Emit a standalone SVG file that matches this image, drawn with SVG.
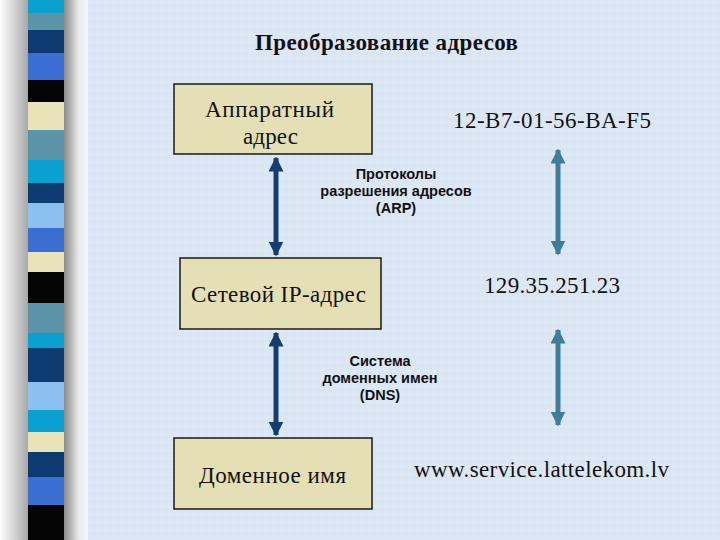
<svg xmlns="http://www.w3.org/2000/svg" width="720" height="540" viewBox="0 0 720 540">
<defs>
<style>
.box{fill:#e4dfb5;stroke:#1a1a1a;stroke-width:1.5}
.serif{font-family:"Liberation Serif","Times New Roman",serif;fill:#111;font-size:23px}
.sans{font-family:"Liberation Sans",Arial,sans-serif;font-weight:bold;fill:#111;font-size:14.5px;text-anchor:middle}
.dk{stroke:#163d6e;stroke-width:5;fill:none}
.lt{stroke:#3f7d98;stroke-width:5;fill:none}
</style>
<marker id="hd" viewBox="0 0 10 10" refX="9" refY="5" markerWidth="3" markerHeight="3" orient="auto-start-reverse" markerUnits="strokeWidth"><path d="M0,0 L10,5 L0,10 Z" fill="#163d6e"/></marker>
<marker id="hl" viewBox="0 0 10 10" refX="9" refY="5" markerWidth="3" markerHeight="3" orient="auto-start-reverse" markerUnits="strokeWidth"><path d="M0,0 L10,5 L0,10 Z" fill="#3f7d98"/></marker>
<linearGradient id="lsh" x1="0" x2="1" y1="0" y2="0"><stop offset="0" stop-color="#ffffff"/><stop offset="1" stop-color="#a8a8a8"/></linearGradient>
<linearGradient id="rsh" x1="0" x2="1" y1="0" y2="0"><stop offset="0" stop-color="#8a8a8a"/><stop offset="0.6" stop-color="#e8e8e8"/><stop offset="1" stop-color="#f4f7fb"/></linearGradient>
<pattern id="tex" width="8" height="8" patternUnits="userSpaceOnUse"><rect width="8" height="8" fill="#dbe7f5"/><rect x="1" y="2" width="2" height="1" fill="#e9f0fa"/><rect x="5" y="5" width="2" height="1" fill="#cfdef0"/></pattern>
</defs>
<rect width="720" height="540" fill="url(#tex)"/>
<g id="sidebar">
<rect x="0" y="0" width="28" height="540" fill="url(#lsh)"/>
<rect x="64" y="0" width="24" height="540" fill="url(#rsh)"/>
<rect x="28" y="0" width="36" height="13" fill="#0aa0d0"/>
<rect x="28" y="13" width="36" height="17" fill="#5b93a8"/>
<rect x="28" y="30" width="36" height="23" fill="#0d3a70"/>
<rect x="28" y="53" width="36" height="27" fill="#3a6ed0"/>
<rect x="28" y="80" width="36" height="22" fill="#050505"/>
<rect x="28" y="102" width="36" height="28" fill="#e8e4b8"/>
<rect x="28" y="130" width="36" height="30" fill="#5b93a8"/>
<rect x="28" y="160" width="36" height="23" fill="#0aa0d0"/>
<rect x="28" y="183" width="36" height="20" fill="#0d3a70"/>
<rect x="28" y="203" width="36" height="25" fill="#8cc0f0"/>
<rect x="28" y="228" width="36" height="24" fill="#3a6ed0"/>
<rect x="28" y="252" width="36" height="20" fill="#e8e4b8"/>
<rect x="28" y="272" width="36" height="31" fill="#050505"/>
<rect x="28" y="303" width="36" height="30" fill="#5b93a8"/>
<rect x="28" y="333" width="36" height="15" fill="#0aa0d0"/>
<rect x="28" y="348" width="36" height="34" fill="#0d3a70"/>
<rect x="28" y="382" width="36" height="28" fill="#8cc0f0"/>
<rect x="28" y="410" width="36" height="22" fill="#0aa0d0"/>
<rect x="28" y="432" width="36" height="20" fill="#e8e4b8"/>
<rect x="28" y="452" width="36" height="25" fill="#0d3a70"/>
<rect x="28" y="477" width="36" height="28" fill="#3a6ed0"/>
<rect x="28" y="505" width="36" height="35" fill="#050505"/>
</g>
<text class="serif" x="255" y="50" font-size="20" font-weight="bold" textLength="263" lengthAdjust="spacing">Преобразование адресов</text>
<g id="connectors">
<line class="dk" x1="276" y1="158" x2="276" y2="255" marker-start="url(#hd)" marker-end="url(#hd)"/>
<line class="dk" x1="276" y1="333" x2="276" y2="435" marker-start="url(#hd)" marker-end="url(#hd)"/>
<line class="lt" x1="558" y1="150" x2="558" y2="254" marker-start="url(#hl)" marker-end="url(#hl)"/>
<line class="lt" x1="558" y1="330" x2="558" y2="425" marker-start="url(#hl)" marker-end="url(#hl)"/>
</g>
<g id="hw">
<rect class="box" x="174" y="84" width="198" height="70"/>
<text class="serif" x="205" y="117" textLength="129" lengthAdjust="spacing">Аппаратный</text>
<text class="serif" x="243" y="144" textLength="55" lengthAdjust="spacing">адрес</text>
</g>
<g id="ip">
<rect class="box" x="180" y="258" width="201" height="71"/>
<text class="serif" x="191" y="302" textLength="175" lengthAdjust="spacing">Сетевой IP-адрес</text>
</g>
<g id="dn">
<rect class="box" x="174" y="438" width="198" height="71"/>
<text class="serif" x="199" y="483" textLength="147" lengthAdjust="spacing">Доменное имя</text>
</g>
<g id="arp">
<text class="sans" x="396" y="179">Протоколы</text>
<text class="sans" x="396" y="196">разрешения адресов</text>
<text class="sans" x="396" y="213">(ARP)</text>
</g>
<g id="dns">
<text class="sans" x="380" y="366">Система</text>
<text class="sans" x="380" y="383">доменных имен</text>
<text class="sans" x="380" y="400">(DNS)</text>
</g>
<g id="mac"><text class="serif" x="453" y="128" textLength="198" lengthAdjust="spacing">12-B7-01-56-BA-F5</text></g>
<g id="ipval"><text class="serif" x="484" y="293" textLength="136" lengthAdjust="spacing">129.35.251.23</text></g>
<g id="url"><text class="serif" x="414" y="477" textLength="255" lengthAdjust="spacing">www.service.lattelekom.lv</text></g>
</svg>
